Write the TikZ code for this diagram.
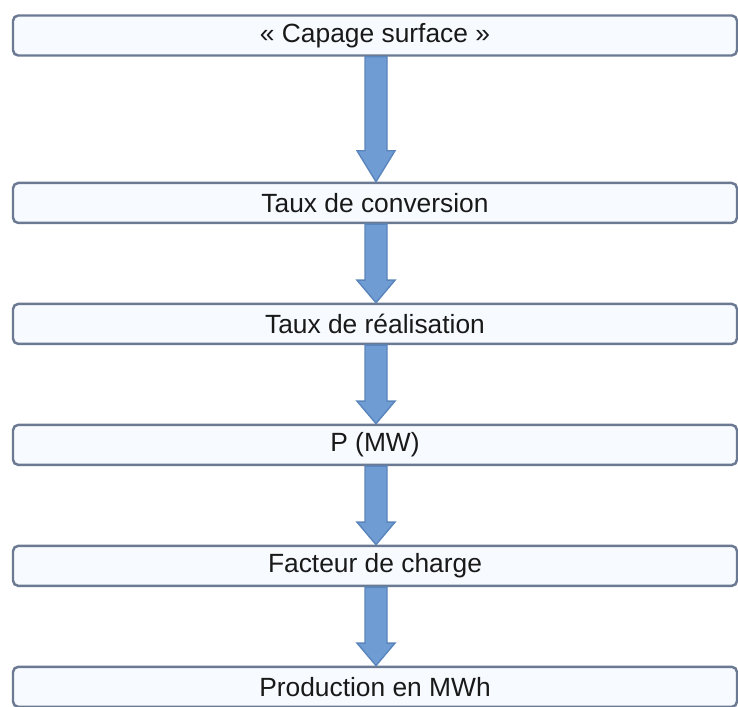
\documentclass[tikz,border=0pt]{standalone}
\usepackage{fontspec}
\setmainfont{Liberation Sans}
\usetikzlibrary{positioning, calc}
\definecolor{boxline}{HTML}{6B7A92}
\definecolor{boxfill}{HTML}{F7FBFF}
\definecolor{arrowfill}{HTML}{6F9DD3}
\definecolor{arrowline}{HTML}{5A85BC}
\tikzset{
    box/.style={
        draw=boxline,
        fill=boxfill,
        line width=1.4pt,
        rounded corners=3pt,
        minimum width=14.48cm,
        minimum height=0.8cm,
        inner sep=0pt,
        align=center,
        text=black!90,
        font=\fontsize{15}{18}\selectfont
    },
    flow/.style={
        draw=arrowline,
        fill=arrowfill,
        line width=0.8pt,
        to path={let \p1=(\tikztostart), \p2=(\tikztotarget) in
            (\x1-0.22cm,\y1) -- (\x1-0.22cm,\y2+#1) -- (\x1-0.38cm,\y2+#1)
            -- (\x2,\y2) -- (\x1+0.38cm,\y2+#1) -- (\x1+0.22cm,\y2+#1)
            -- (\x1+0.22cm,\y1) -- cycle}
    },
    flow/.default=0.45cm
}

\begin{document}
\begin{tikzpicture}[node distance=1.57cm]
\useasboundingbox (0,0) rectangle (14.76,-14.12);

\node[box] (capage) at (7.5,-0.71) {« Capage surface »};
\node[box, below=2.5cm of capage] (conv) {Taux de conversion};
\node[box, below=of conv] (real) {Taux de réalisation};
\node[box, below=of real] (puiss) {P (MW)};
\node[box, below=of puiss] (charge) {Facteur de charge};
\node[box, below=of charge] (prod) {Production en MWh};

\path[flow=0.62cm] ([xshift=0.02cm]capage.south) to ([xshift=0.02cm]conv.north);
\path[flow] ([xshift=0.02cm]conv.south) to ([xshift=0.02cm]real.north);
\path[flow] ([xshift=0.02cm]real.south) to ([xshift=0.02cm]puiss.north);
\path[flow] ([xshift=0.02cm]puiss.south) to ([xshift=0.02cm]charge.north);
\path[flow] ([xshift=0.02cm]charge.south) to ([xshift=0.02cm]prod.north);
\end{tikzpicture}
\end{document}
